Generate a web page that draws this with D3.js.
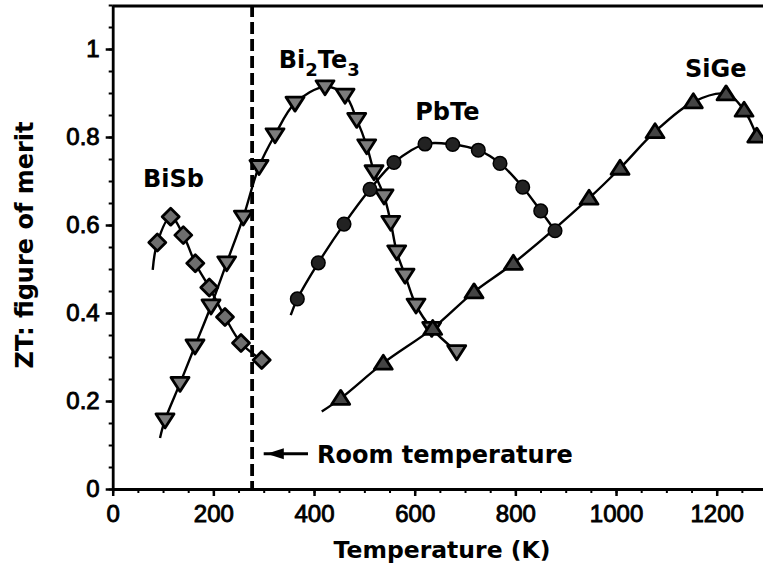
<!DOCTYPE html>
<html>
<head>
<meta charset="utf-8">
<script src="https://cdn.jsdelivr.net/npm/d3@7"></script>
<style>
  html, body { margin: 0; padding: 0; background: #fff; }
  svg { display: block; }
</style>
</head>
<body>
<svg id="chart" width="763" height="571"></svg>
<script>
// Thermoelectric figure of merit ZT versus temperature for four material families.

// Temperatures (K) of the measured points
const bisbT   = [88.6, 115.2, 140.3, 164.1, 191.9, 223.1, 254.9, 296.0];
const bisbZT  = [0.560, 0.619, 0.577, 0.513, 0.458, 0.391, 0.332, 0.293];

const bi2te3T  = [103.9, 133.7, 163.5, 195.3, 226.5, 259.5, 290.7, 322.5, 362.2, 421.8, 461.6,
                  484.8, 504.7, 519.2, 539.1, 552.4, 564.3, 580.8, 602.6, 633.8, 683.5];
const bi2te3ZT = [0.157, 0.240, 0.325, 0.416, 0.514, 0.618, 0.733, 0.805, 0.877, 0.914, 0.895,
                  0.840, 0.780, 0.721, 0.666, 0.606, 0.539, 0.486, 0.418, 0.365, 0.312];

const pbteT  = [366.8, 408.5, 459.6, 511.2, 558.9, 620.5, 675.5, 726.4, 769.5, 814.6, 850.4, 878.8];
const pbteZT = [0.432, 0.514, 0.602, 0.681, 0.742, 0.784, 0.783, 0.770, 0.740, 0.686, 0.632, 0.587];

const sigeT  = [453.0, 537.6, 635.8, 717.9, 796.0, 946.4, 1008.0, 1077.5, 1153.6, 1218.6, 1254.4, 1279.6];
const sigeZT = [0.206, 0.286, 0.365, 0.448, 0.513, 0.661, 0.729, 0.812, 0.880, 0.898, 0.861, 0.802];

// Where each fitted curve begins, just before its first measured point [T, ZT]
const bisbCurveStart   = [79.5, 0.498];
const bi2te3CurveStart = [94.0, 0.116];
const pbteCurveStart   = [353.7, 0.395];
const sigeCurveStart   = [415.3, 0.176];

const roomTemperature = 277;

const xTickValues = [0, 200, 400, 600, 800, 1000, 1200];
const xTickLabels = ["0", "200", "400", "600", "800", "1000", "1200"];
const yTickValues = [0, 0.2, 0.4, 0.6, 0.8, 1];
const yTickLabels = ["0", "0.2", "0.4", "0.6", "0.8", "1"];

const materialNames = ["BiSb", "Bi2Te3", "PbTe", "SiGe"];

// ---------------------------------------------------------------------------
const svg = d3.select("#chart");
const W = 763, H = 571;
svg.append("rect").attr("width", W).attr("height", H).attr("fill", "#fff");

const x = d3.scaleLinear().domain([0, 1300]).range([112.7, 112.7 + 1300 * 0.50333]);
const y = d3.scaleLinear().domain([0, 1.1]).range([489, 5]);

const tickFont = "'Liberation Sans', Arial, sans-serif";
const labelFont = "'DejaVu Sans', sans-serif";

// Minor ticks
svg.append("g")
  .attr("transform", `translate(0,${y(0)})`)
  .call(d3.axisBottom(x).tickValues(d3.range(0, 1301, 50)).tickSize(4).tickSizeOuter(0).tickFormat(""))
  .call(g => g.select(".domain").remove())
  .call(g => g.selectAll("line").attr("stroke-width", 2));
svg.append("g")
  .attr("transform", `translate(${x(0)},0)`)
  .call(d3.axisLeft(y).tickValues(d3.range(0, 1.1001, 0.05)).tickSize(4).tickSizeOuter(0).tickFormat(""))
  .call(g => g.select(".domain").remove())
  .call(g => g.selectAll("line").attr("stroke-width", 2));

// Major axes
const xAxis = svg.append("g")
  .attr("transform", `translate(0,${y(0)})`)
  .call(d3.axisBottom(x).tickValues(xTickValues).tickSize(7).tickPadding(9).tickSizeOuter(0)
        .tickFormat((d, i) => xTickLabels[i]));
const yAxis = svg.append("g")
  .attr("transform", `translate(${x(0)},0)`)
  .call(d3.axisLeft(y).tickValues(yTickValues).tickSize(7).tickPadding(6).tickSizeOuter(0)
        .tickFormat((d, i) => yTickLabels[i]));

[xAxis, yAxis].forEach(g => {
  g.select(".domain").attr("stroke-width", 2.8);
  g.selectAll("line").attr("stroke-width", 2.5);
  g.selectAll("text")
    .attr("font-family", tickFont)
    .attr("font-size", 24)
    .attr("fill", "#000")
    .attr("stroke", "#000").attr("stroke-width", 0.9);
});

// Top frame line
svg.append("line")
  .attr("x1", x(0)).attr("x2", W)
  .attr("y1", y(1.1) + 1).attr("y2", y(1.1) + 1)
  .attr("stroke", "#000").attr("stroke-width", 2.8);

// Room temperature marker
svg.append("line")
  .attr("x1", x(roomTemperature)).attr("x2", x(roomTemperature))
  .attr("y1", y(1.1)).attr("y2", y(0))
  .attr("stroke", "#000").attr("stroke-width", 3.8)
  .attr("stroke-dasharray", "12,5");

// Fitted curves
const line = d3.line().x(d => x(d[0])).y(d => y(d[1])).curve(d3.curveCatmullRom.alpha(0.5));
function series(start, T, Z) { return [start].concat(T.map((t, i) => [t, Z[i]])); }
const curves = [
  series(bisbCurveStart, bisbT, bisbZT),
  series(bi2te3CurveStart, bi2te3T, bi2te3ZT),
  series(pbteCurveStart, pbteT, pbteZT),
  series(sigeCurveStart, sigeT, sigeZT)
];
curves.forEach(c => {
  svg.append("path").attr("d", line(c))
    .attr("fill", "none").attr("stroke", "#000").attr("stroke-width", 2.4);
});

// Markers
const mk = svg.append("g").attr("stroke", "#000").attr("stroke-linejoin", "round");
mk.selectAll(".bisb").data(bisbT.map((t, i) => [t, bisbZT[i]])).join("path")
  .attr("d", "M0,-8.5L8.5,0L0,8.5L-8.5,0Z")
  .attr("transform", d => `translate(${x(d[0])},${y(d[1])})`)
  .attr("fill", "#6e6e6e").attr("stroke-width", 2.8);
mk.selectAll(".bte").data(bi2te3T.map((t, i) => [t, bi2te3ZT[i]])).join("path")
  .attr("d", "M-9,-6L9,-6L0,8Z")
  .attr("transform", d => `translate(${x(d[0])},${y(d[1])})`)
  .attr("fill", "#7c7c7c").attr("stroke-width", 2.8);
mk.selectAll(".pbte").data(pbteT.map((t, i) => [t, pbteZT[i]])).join("circle")
  .attr("cx", d => x(d[0])).attr("cy", d => y(d[1])).attr("r", 6.8)
  .attr("fill", "#222").attr("stroke-width", 1.5);
mk.selectAll(".sige").data(sigeT.map((t, i) => [t, sigeZT[i]])).join("path")
  .attr("d", "M0,-8L9,6L-9,6Z")
  .attr("transform", d => `translate(${x(d[0])},${y(d[1])})`)
  .attr("fill", "#444").attr("stroke-width", 2.8);

// Material labels
function label(T, Z) {
  return svg.append("text").attr("x", x(T)).attr("y", y(Z))
    .attr("font-family", labelFont).attr("font-weight", "bold").attr("font-size", 24).attr("fill", "#000");
}
label(60, 0.686).text(materialNames[0]);
const bt = label(330, 0.957);
bt.append("tspan").text("Bi");
bt.append("tspan").attr("font-size", 18).attr("dy", 8).text("2");
bt.append("tspan").attr("dy", -8).text("Te");
bt.append("tspan").attr("font-size", 18).attr("dy", 8).text("3");
label(601, 0.839).text(materialNames[2]);
label(1137, 0.936).text(materialNames[3]);

// Room temperature annotation with arrow
const arrowY = y(0.08);
svg.append("line")
  .attr("x1", x(300)).attr("x2", x(388)).attr("y1", arrowY).attr("y2", arrowY)
  .attr("stroke", "#000").attr("stroke-width", 3);
svg.append("path")
  .attr("d", `M${x(306)},${arrowY}L${x(340)},${arrowY - 5.5}L${x(340)},${arrowY + 5.5}Z`)
  .attr("fill", "#000");
svg.append("text")
  .attr("x", x(406)).attr("y", arrowY + 9)
  .attr("font-family", labelFont).attr("font-weight", "bold").attr("font-size", 24)
  .text("Room temperature");

// Axis titles
svg.append("text")
  .attr("x", 442).attr("y", 558).attr("text-anchor", "middle")
  .attr("font-family", labelFont).attr("font-weight", "bold").attr("font-size", 23.5)
  .text("Temperature (K)");
svg.append("text")
  .attr("transform", "translate(33,245) rotate(-90)").attr("text-anchor", "middle")
  .attr("font-family", labelFont).attr("font-weight", "bold").attr("font-size", 24)
  .text("ZT: figure of merit");
</script>
</body>
</html>
